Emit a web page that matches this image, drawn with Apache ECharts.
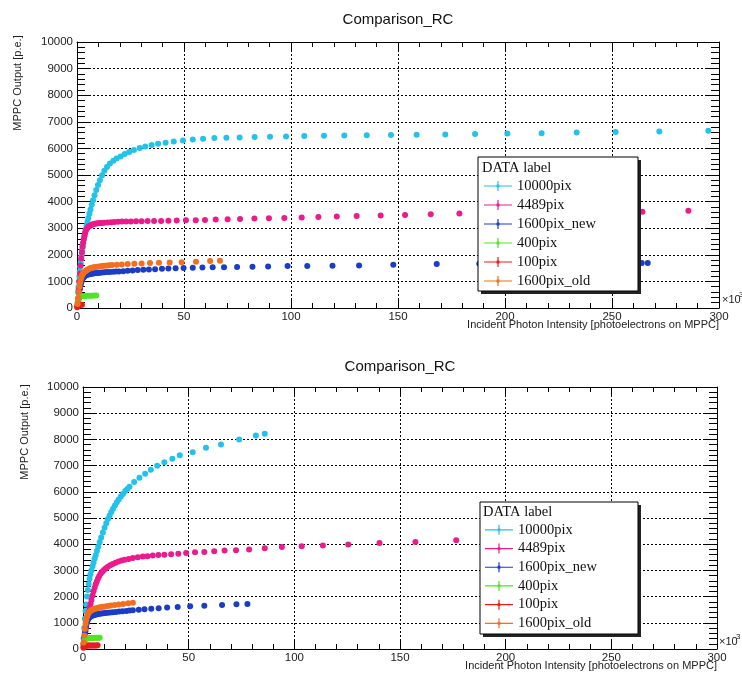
<!DOCTYPE html>
<html><head><meta charset="utf-8">
<script src="https://cdn.jsdelivr.net/npm/echarts@6/dist/echarts.min.js"></script>
<style>html,body{margin:0;padding:0;background:#fff}#c{width:742px;height:673px}</style>
</head><body><div id="c"></div>
<script>
const chartTitle = 'Comparison_RC';
const xAxisTitle = 'Incident Photon Intensity [photoelectrons on MPPC]';
const yAxisTitle = 'MPPC Output [p.e.]';
const legendHeader = 'DATA label';
const seriesNames = ['10000pix', '4489pix', '1600pix_new', '400pix', '100pix', '1600pix_old'];
const xTickLabels = ['0', '50', '100', '150', '200', '250', '300'];
const yTickLabels = ['0', '1000', '2000', '3000', '4000', '5000', '6000', '7000', '8000', '9000', '10000'];
const xExponent = '3';

// ---- upper panel (x in units of 10^3 photoelectrons) ----
const top_10000pix = [[0.5,600],[0.7,800],[0.9,1000],[1.1,1180],[1.3,1370],[1.5,1550],[1.7,1690],[1.9,1830],[2.1,1960],[2.3,2090],[2.5,2220],[2.7,2330],[2.9,2440],[3.2,2580],[3.5,2720],[3.8,2840],[4.1,2960],[4.5,3100],[4.9,3240],[5.3,3380],[5.8,3540],[6.3,3700],[6.9,3880],[7.5,4050],[8.2,4240],[9.0,4440],[9.8,4620],[10.7,4800],[11.7,4990],[12.8,5160],[14.0,5300],[15.4,5437],[17.0,5540],[18.5,5620],[20.4,5700],[22.3,5787],[24.4,5862],[26.6,5937],[29.3,6012],[31.9,6074],[34.9,6124],[37.9,6174],[41.4,6212],[45.2,6262],[49.5,6299],[54.1,6337],[58.9,6362],[64.2,6387],[69.8,6399],[76.0,6412],[83.0,6424],[90.2,6437],[97.7,6449],[106.2,6462],[115.4,6474],[124.9,6487],[135.4,6495],[146.7,6505],[158.7,6512],[172.1,6524],[186.0,6537],[201.1,6560],[217.1,6574],[233.5,6599],[251.7,6612],[272.1,6637],[295.0,6662]];
const top_4489pix = [[0.3,200],[0.5,350],[0.8,700],[1.1,1000],[1.4,1300],[1.7,1600],[2.0,1870],[2.3,2100],[2.6,2300],[2.9,2460],[3.2,2600],[3.5,2720],[3.8,2820],[4.1,2900],[4.5,2970],[4.9,3020],[5.3,3055],[5.8,3080],[6.3,3100],[6.9,3130],[7.5,3150],[8.2,3165],[9.0,3180],[9.8,3190],[10.7,3195],[11.7,3200],[12.8,3205],[14.3,3210],[15.9,3225],[17.4,3236],[19.2,3242],[21.0,3248],[23.0,3252],[25.2,3256],[27.6,3260],[30.2,3262],[33.0,3270],[36.0,3274],[39.3,3274],[42.7,3280],[46.6,3285],[50.9,3295],[55.5,3300],[59.8,3311],[64.8,3323],[70.4,3337],[76.2,3349],[82.9,3360],[89.7,3375],[96.9,3386],[105.0,3398],[112.8,3424],[121.4,3436],[130.7,3461],[141.9,3473],[153.3,3499],[165.3,3525],[178.7,3548],[193.0,3565],[208.5,3580],[225.0,3595],[243.0,3610],[264.2,3623],[285.7,3660]];
const top_1600pix_new = [[0.3,80],[0.5,170],[0.8,350],[1.1,550],[1.4,720],[1.7,860],[2.0,960],[2.3,1040],[2.6,1100],[2.9,1140],[3.2,1170],[3.5,1195],[3.8,1215],[4.1,1230],[4.5,1245],[4.9,1255],[5.3,1265],[5.8,1273],[6.3,1281],[6.9,1289],[7.5,1297],[8.2,1305],[9.0,1313],[9.8,1320],[10.7,1328],[11.7,1336],[12.8,1343],[14.0,1350],[15.4,1357],[16.9,1363],[18.2,1368],[19.6,1373],[21.6,1385],[23.7,1399],[26.0,1412],[28.4,1425],[31.0,1437],[33.6,1448],[36.5,1461],[39.7,1474],[42.7,1485],[46.1,1492],[49.8,1500],[54.1,1511],[58.6,1523],[63.4,1530],[68.7,1535],[74.8,1538],[82.0,1550],[89.3,1560],[98.4,1575],[107.6,1580],[119.4,1586],[131.8,1598],[147.8,1624],[168.1,1650],[188.0,1662],[211.0,1672],[236.0,1682],[263.9,1688],[266.7,1690]];
const top_400pix = [[0.2,80],[0.4,200],[0.6,300],[0.8,370],[1.0,410],[1.3,430],[1.6,440],[2.0,445],[2.4,450],[2.9,452],[3.4,455],[4.0,457],[4.6,459],[5.3,461],[6.1,463],[7.0,465],[8.0,468],[9.0,470]];
const top_100pix = [[0.1,30],[0.2,60],[0.35,90],[0.5,105],[0.7,112],[0.9,116],[1.2,119],[1.5,121],[1.9,123],[2.3,125]];
const top_1600pix_old = [[0.3,150],[0.6,380],[0.9,600],[1.2,800],[1.5,960],[1.8,1080],[2.1,1170],[2.4,1235],[2.7,1280],[3.0,1315],[3.4,1350],[3.8,1380],[4.2,1405],[4.7,1430],[5.2,1455],[5.8,1480],[6.4,1500],[7.1,1515],[7.8,1528],[8.6,1540],[9.5,1552],[10.5,1563],[11.6,1575],[12.8,1587],[14.1,1598],[15.2,1606],[16.4,1612],[18.6,1625],[20.9,1638],[23.7,1652],[26.8,1664],[30.2,1676],[34.1,1688],[38.3,1698],[43.3,1710],[48.9,1724],[55.6,1740],[62.2,1763],[66.8,1774]];

// ---- lower panel ----
const bot_10000pix = [[0.3,400],[0.6,800],[0.9,1150],[1.2,1450],[1.5,1700],[1.9,2000],[2.3,2250],[2.7,2480],[3.1,2680],[3.5,2840],[4.0,3000],[4.5,3160],[5.0,3300],[5.5,3440],[6.0,3580],[6.6,3740],[7.2,3900],[7.9,4080],[8.6,4260],[9.4,4450],[10.2,4630],[11.0,4800],[11.8,4960],[12.6,5100],[13.4,5230],[14.2,5350],[15.1,5480],[16.0,5600],[16.9,5710],[17.9,5820],[18.9,5920],[20.0,6030],[21.0,6110],[22.0,6190],[24.2,6370],[26.7,6540],[29.4,6690],[32.1,6840],[35.1,6991],[38.5,7128],[42.3,7258],[45.8,7396],[51.9,7510],[58.2,7678],[65.3,7804],[73.9,7995],[81.8,8148],[86.0,8213]];
const bot_4489pix = [[0.3,180],[0.6,350],[0.9,520],[1.2,690],[1.5,840],[1.8,990],[2.1,1130],[2.4,1260],[2.8,1420],[3.2,1580],[3.6,1730],[4.0,1870],[4.5,2040],[5.0,2200],[5.5,2340],[6.0,2470],[6.5,2580],[7.1,2690],[7.7,2790],[8.4,2880],[9.1,2950],[9.9,3020],[10.8,3080],[11.8,3140],[12.9,3195],[14.1,3245],[15.4,3295],[16.8,3340],[18.3,3380],[19.7,3411],[21.6,3438],[23.6,3476],[25.9,3499],[28.3,3526],[30.5,3537],[33.0,3564],[35.7,3590],[38.5,3602],[41.7,3614],[45.1,3640],[48.8,3667],[53.0,3690],[57.4,3705],[62.1,3728],[67.0,3755],[72.4,3767],[78.6,3793],[86.0,3843],[94.1,3896],[103.5,3920],[113.5,3946],[125.5,3984],[140.3,4049],[157.3,4087],[176.6,4149]];
const bot_1600pix_new = [[0.3,200],[0.6,420],[0.9,620],[1.2,790],[1.5,920],[1.8,1020],[2.1,1090],[2.4,1140],[2.8,1185],[3.2,1215],[3.6,1240],[4.0,1258],[4.5,1275],[5.0,1290],[5.5,1302],[6.0,1313],[6.6,1323],[7.2,1333],[7.9,1342],[8.7,1352],[9.6,1362],[10.6,1372],[11.7,1383],[12.9,1394],[14.2,1405],[15.6,1416],[17.1,1428],[18.7,1440],[20.5,1455],[22.0,1470],[23.6,1480],[26.4,1501],[29.1,1520],[32.3,1540],[35.8,1560],[39.8,1582],[44.8,1604],[50.7,1627],[57.4,1654],[65.8,1681],[72.6,1704],[77.8,1719]];
const bot_400pix = [[0.2,100],[0.4,220],[0.6,310],[0.8,360],[1.0,385],[1.3,398],[1.6,405],[2.0,410],[2.5,413],[3.0,416],[3.6,419],[4.2,421],[4.9,423],[5.6,425],[6.4,427],[7.2,429],[7.9,430]];
const bot_100pix = [[0.2,50],[0.4,90],[0.6,110],[0.9,120],[1.2,125],[1.6,128],[2.0,130],[2.5,132],[3.0,133],[3.6,134],[4.2,135],[4.9,136],[5.6,137],[6.3,138],[6.9,139]];
const bot_1600pix_old = [[0.3,250],[0.6,520],[0.9,760],[1.2,950],[1.5,1100],[1.8,1210],[2.1,1290],[2.4,1340],[2.8,1390],[3.2,1430],[3.6,1458],[4.0,1480],[4.5,1500],[5.0,1518],[5.5,1533],[6.0,1546],[6.6,1560],[7.2,1573],[7.9,1586],[8.7,1599],[9.6,1612],[10.6,1625],[11.7,1638],[13.1,1660],[15.0,1680],[16.9,1700],[19.0,1720],[21.4,1745],[23.6,1768]];

const topData = [top_10000pix, top_4489pix, top_1600pix_new, top_400pix, top_100pix, top_1600pix_old];
const botData = [bot_10000pix, bot_4489pix, bot_1600pix_new, bot_400pix, bot_100pix, bot_1600pix_old];

// ---- styling ----
const colors = ['#22c2ea', '#ec1a8c', '#1b3dc6', '#4fe424', '#ec1c1c', '#f46e1e'];
const SANS = 'Liberation Sans';
const SERIF = 'Liberation Serif';
const panels = [
  {left: 77, top: 42, width: 642, height: 266, titleX: 393, titleY: 16, legendBox: [478, 157, 160, 134], legendTop: 176.5, legendLeft: 484, legendLine: 19, headerX: 482, headerY: 168, yNameX: 18, yNameY: 83, xNameY: 325, expY: 300, expX: 722},
  {left: 83, top: 387, width: 634, height: 262, titleX: 395, titleY: 363, legendBox: [480, 502, 158, 132], legendTop: 520.5, legendLeft: 485, legendLine: 18.7, headerX: 483, headerY: 512, yNameX: 25, yNameY: 432, xNameY: 666, expY: 642, expX: 719}
];

function xAx(g, pos, main) {
  return {type: 'value', gridIndex: g, position: pos, min: 0, max: 300, interval: 50,
    axisLine: {show: true, onZero: false, lineStyle: {color: '#000', width: 1}},
    axisTick: {show: true, inside: true, length: 10, lineStyle: {color: '#000'}},
    minorTick: {show: true, splitNumber: 5, length: 5, lineStyle: {color: '#000'}},
    axisLabel: {show: main, margin: 3, color: '#222', fontSize: 11.5, fontFamily: SANS,
      formatter: v => xTickLabels[Math.round(v / 50)]},
    splitLine: {show: main, lineStyle: {color: '#000', width: 1, type: [2, 2]}},
    minorSplitLine: {show: false}};
}
function yAx(g, pos, main) {
  return {type: 'value', gridIndex: g, position: pos, min: 0, max: 10000, interval: 1000,
    axisLine: {show: true, onZero: false, lineStyle: {color: '#000', width: 1}},
    axisTick: {show: true, inside: true, length: 13, lineStyle: {color: '#000'}},
    minorTick: {show: true, splitNumber: 5, length: 8, lineStyle: {color: '#000'}},
    axisLabel: {show: main, margin: 4, color: '#222', fontSize: 11.5, fontFamily: SANS,
      formatter: v => yTickLabels[Math.round(v / 1000)]},
    splitLine: {show: main, lineStyle: {color: '#000', width: 1, type: [2, 2]}},
    minorSplitLine: {show: false}};
}

const grids = [], xAxes = [], yAxes = [], series = [], legends = [], titles = [], graphics = [];
const legendIcon = 'path://M0,4.4L28,4.4L28,5.6L0,5.6Z M13.4,0L14.6,0L14.6,10L13.4,10Z M12.6,3.6L15.4,3.6L15.4,6.4L12.6,6.4Z';

panels.forEach((p, g) => {
  grids.push({left: p.left, top: p.top, width: p.width, height: p.height, outerBoundsMode: 'none', containLabel: false});
  xAxes.push(xAx(g, 'bottom', true), xAx(g, 'top', false));
  yAxes.push(yAx(g, 'left', true), yAx(g, 'right', false));
  const data = g === 0 ? topData : botData;
  seriesNames.forEach((name, i) => {
    series.push({type: 'scatter', name: name, xAxisIndex: g * 2, yAxisIndex: g * 2, data: data[i],
      symbol: 'circle', symbolSize: 6, itemStyle: {color: colors[i], opacity: 1}, silent: true, z: 2});
  });
  titles.push({text: chartTitle, left: p.titleX, top: p.titleY - 9, textAlign: 'center',
    textStyle: {fontFamily: SANS, fontSize: 15, fontWeight: 'normal', color: '#111'}});
  legends.push({data: seriesNames, orient: 'vertical', left: p.legendLeft, top: p.legendTop, padding: 0,
    itemWidth: 28, itemHeight: 10, itemGap: 0, itemTextGap: 6, icon: legendIcon, selectedMode: false, z: 6,
    textStyle: {fontFamily: SERIF, fontSize: 14.5, color: '#111', lineHeight: p.legendLine}});
  const [bx, by, bw, bh] = p.legendBox;
  graphics.push(
    {type: 'rect', z: 4, shape: {x: bx + 3, y: by + 3, width: bw, height: bh}, style: {fill: '#222'}},
    {type: 'rect', z: 5, shape: {x: bx, y: by, width: bw, height: bh}, style: {fill: '#fff', stroke: '#000', lineWidth: 1}},
    {type: 'text', z: 7, x: p.headerX, y: p.headerY, style: {text: legendHeader, fontFamily: SERIF, fontSize: 14.5, fill: '#111', verticalAlign: 'middle', align: 'left'}},
    {type: 'text', z: 7, x: p.yNameX, y: p.yNameY, rotation: Math.PI / 2, style: {text: yAxisTitle, fontFamily: SANS, fontSize: 11, fill: '#222', align: 'center', verticalAlign: 'middle'}},
    {type: 'text', z: 7, x: p.left + p.width, y: p.xNameY, style: {text: xAxisTitle, fontFamily: SANS, fontSize: 11, fill: '#222', align: 'right', verticalAlign: 'middle'}},
    {type: 'text', z: 7, x: p.expX, y: p.expY, style: {text: '×10', fontFamily: SANS, fontSize: 11, fill: '#222', align: 'left', verticalAlign: 'middle'}},
    {type: 'text', z: 7, x: p.expX + 17, y: p.expY - 5, style: {text: xExponent, fontFamily: SANS, fontSize: 8, fill: '#222', align: 'left', verticalAlign: 'middle'}}
  );
});

const chart = echarts.init(document.getElementById('c'), null, {renderer: 'canvas'});
chart.setOption({
  animation: false,
  backgroundColor: '#fff',
  title: titles,
  grid: grids,
  xAxis: xAxes,
  yAxis: yAxes,
  legend: legends,
  series: series,
  graphic: {elements: graphics}
});
</script>
</body></html>
